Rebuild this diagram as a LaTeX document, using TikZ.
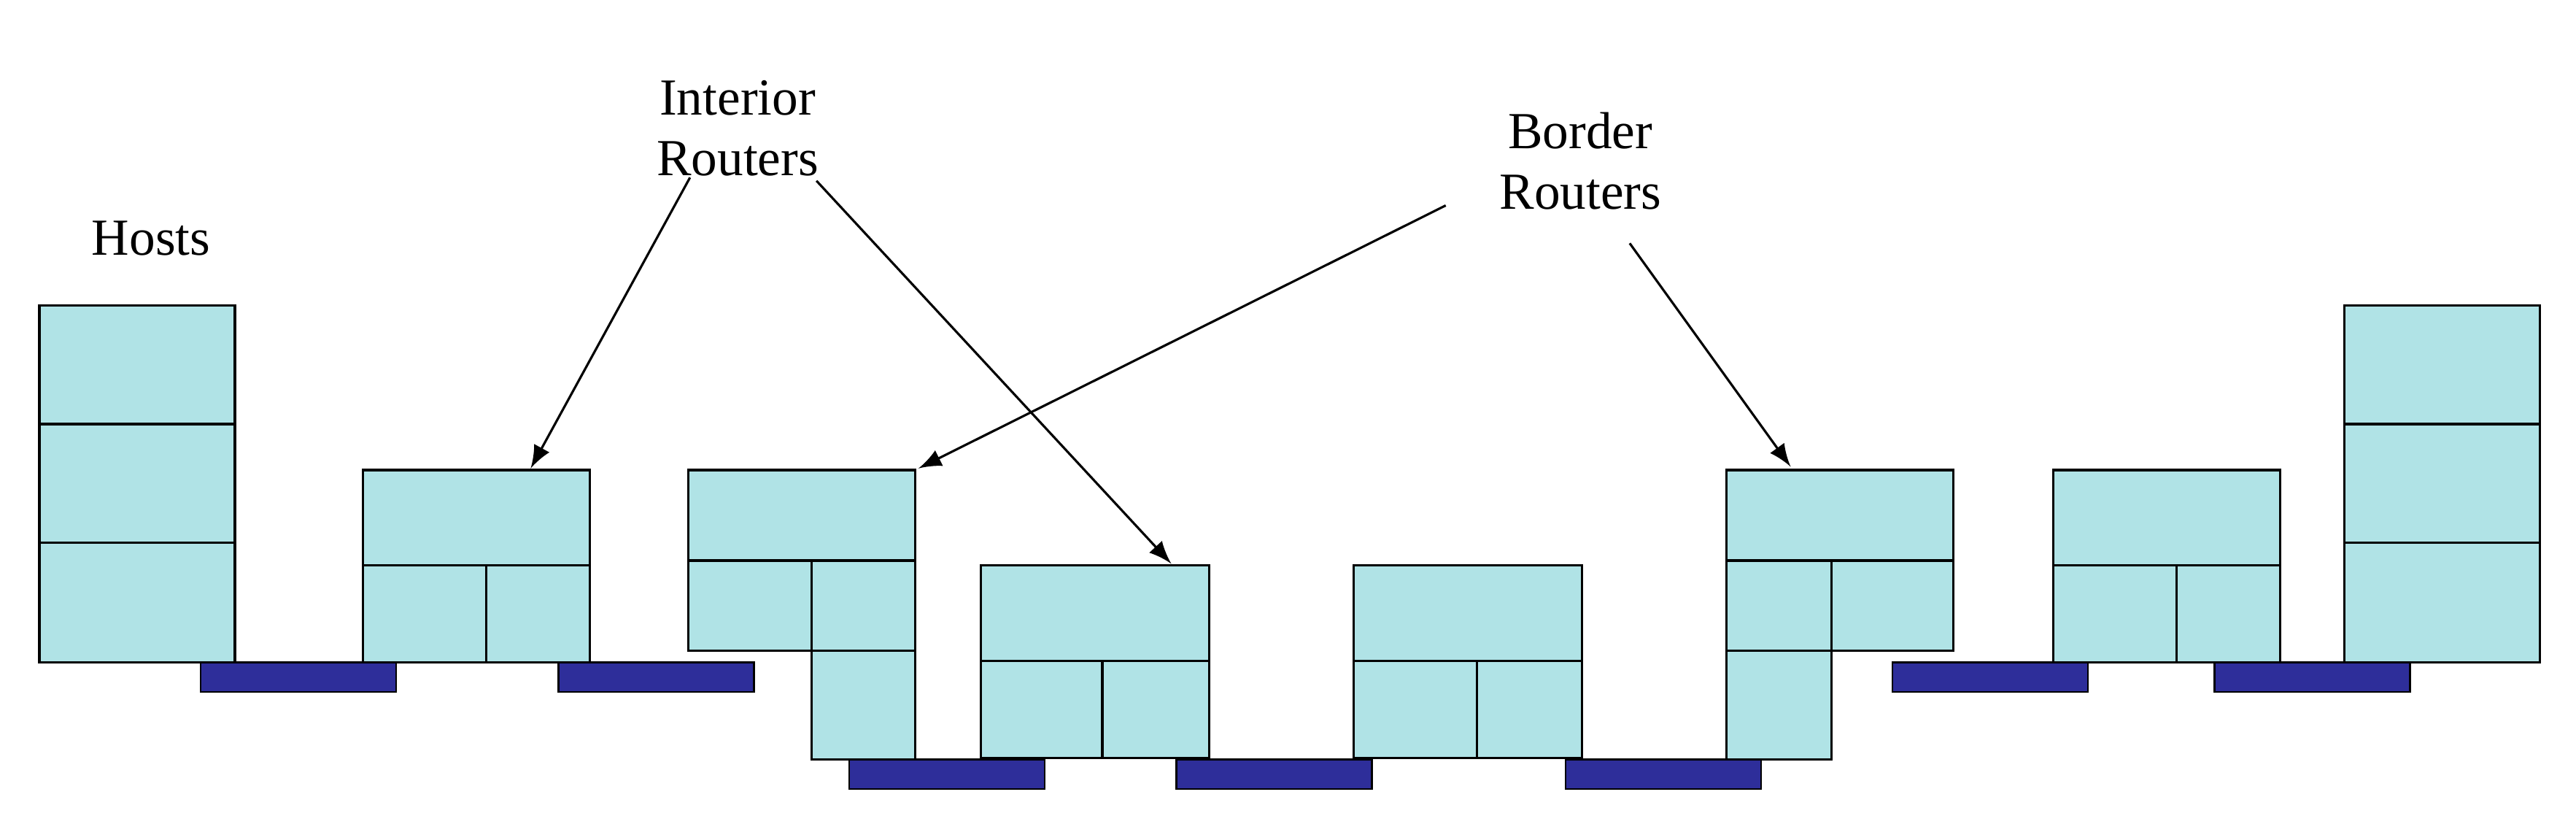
\documentclass[tikz,border=0pt]{standalone}
\usepackage{fontspec}
\setmainfont{Liberation Serif}
\begin{document}
\begin{tikzpicture}[x=0.01cm,y=-0.01cm,
 box/.style={draw=black,fill=cyanbox,line width=0.4pt},
 bar/.style={draw=black,fill=barblue,line width=0.3pt},
 lab/.style={font=\fontsize{9}{10.5}\selectfont,align=center,inner sep=0pt},
 arr/.style={-latex,line width=0.4pt}]
\definecolor{cyanbox}{HTML}{B0E3E6}
\definecolor{barblue}{HTML}{2E2E9A}
\useasboundingbox (0,0) rectangle (1568,508);
% hosts
\foreach \a/\b in {24/143,1427/1546}{
 \draw[box] (\a,186) rectangle (\b,258);
 \draw[box] (\a,258) rectangle (\b,330);
 \draw[box] (\a,330) rectangle (\b,403);}
% routers (3-cell)
\foreach \a/\m/\b/\t in {221/296/359/286,1250/1325/1388/286,597/671/736/344,824/899/963/344}{
 \draw[box] (\a,\t) rectangle (\b,\t+58);
 \draw[box] (\a,\t+58) rectangle (\m,\t+117);
 \draw[box] (\m,\t+58) rectangle (\b,\t+117);}
% border router left
\draw[box] (419,286) rectangle (557,341);
\draw[box] (419,341) rectangle (494,396);
\draw[box] (494,341) rectangle (557,396);
\draw[box] (494,396) rectangle (557,462);
% border router right
\draw[box] (1051,286) rectangle (1189,341);
\draw[box] (1051,341) rectangle (1115,396);
\draw[box] (1115,341) rectangle (1189,396);
\draw[box] (1051,396) rectangle (1115,462);
% bars
\foreach \a in {122,340,1152,1348}{\draw[bar] (\a,403) rectangle (\a+119,421);}
\foreach \a in {517,716,953}{\draw[bar] (\a,462) rectangle (\a+119,480);}
% labels
\node[lab] (hosts) at (92,145) {Hosts};
\node[lab] (ir) at (449,78) {Interior\\Routers};
\node[lab] (br) at (962,98) {Border\\Routers};
\coordinate (t1) at (323,285);
\coordinate (t2) at (713,343);
\coordinate (t3) at (559,285);
\coordinate (t4) at (1090,284);
\draw[arr] (420,108) -- (t1);
\draw[arr] (497,110) -- (t2);
\draw[arr] (880,125) -- (t3);
\draw[arr] (992,148) -- (t4);
\end{tikzpicture}
\end{document}
